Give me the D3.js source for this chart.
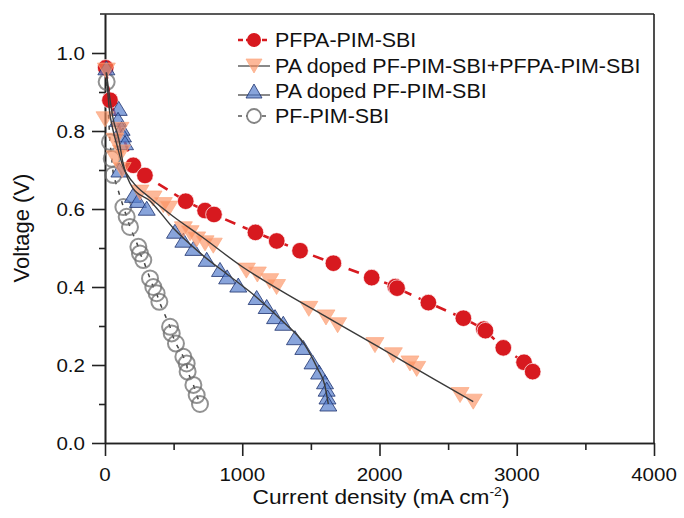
<!DOCTYPE html>
<html><head><meta charset="utf-8">
<script src="https://cdn.jsdelivr.net/npm/d3@7"></script>
<style>
html,body{margin:0;padding:0;background:#fff;}
svg text{font-family:"Liberation Sans",Arial,sans-serif;fill:#111;}
</style></head>
<body>
<svg id="chart" width="684" height="518"></svg>
<script>
// ---- data ----
const seriesNames = ["PFPA-PIM-SBI", "PA doped PF-PIM-SBI+PFPA-PIM-SBI", "PA doped PF-PIM-SBI", "PF-PIM-SBI"];

const redI = [5, 36, 206, 291, 588, 729, 794, 1096, 1251, 1421, 1664, 1943, 2115, 2128, 2356, 2611, 2760, 2772, 2902, 3053, 3116];
const redV = [0.962, 0.879, 0.712, 0.686, 0.620, 0.596, 0.586, 0.540, 0.518, 0.493, 0.461, 0.424, 0.401, 0.397, 0.360, 0.320, 0.292, 0.288, 0.244, 0.207, 0.183];

const orangeI = [10, 0, 109, 73, 75, 120, 125, 255, 350, 425, 465, 571, 620, 668, 729, 789, 1030, 1110, 1200, 1250, 1485, 1610, 1695, 1967, 2101, 2222, 2271, 2587, 2683];
const orangeV = [0.955, 0.83, 0.803, 0.775, 0.73, 0.745, 0.70, 0.642, 0.627, 0.610, 0.601, 0.548, 0.538, 0.522, 0.512, 0.506, 0.442, 0.432, 0.415, 0.400, 0.344, 0.322, 0.302, 0.251, 0.225, 0.204, 0.190, 0.123, 0.106];
const orangeFitI = [10, 30, 60, 90, 130, 200, 330, 500, 700, 1000, 1275, 1600, 2000, 2400, 2683];
const orangeFitV = [0.95, 0.86, 0.80, 0.76, 0.71, 0.67, 0.628, 0.58, 0.53, 0.452, 0.392, 0.326, 0.245, 0.163, 0.106];

const blueI = [10, 100, 95, 121, 131, 146, 105, 204, 240, 304, 510, 571, 644, 741, 838, 890, 971, 1105, 1178, 1239, 1299, 1384, 1445, 1512, 1560, 1603, 1615, 1621, 1627];
const blueV = [0.962, 0.858, 0.83, 0.807, 0.79, 0.77, 0.70, 0.635, 0.622, 0.602, 0.543, 0.520, 0.499, 0.471, 0.445, 0.426, 0.405, 0.373, 0.350, 0.324, 0.307, 0.270, 0.245, 0.208, 0.182, 0.157, 0.138, 0.118, 0.100];
const blueFitI = [10, 60, 100, 130, 200, 330, 500, 700, 900, 1100, 1300, 1450, 1550, 1600, 1627];
const blueFitV = [0.95, 0.83, 0.78, 0.72, 0.655, 0.62, 0.55, 0.485, 0.43, 0.375, 0.31, 0.255, 0.19, 0.15, 0.10];

const grayI = [12, 36, 49, 61, 134, 158, 182, 243, 255, 279, 328, 352, 376, 396, 474, 486, 517, 571, 595, 602, 644, 668, 692];
const grayV = [0.926, 0.772, 0.729, 0.687, 0.605, 0.580, 0.554, 0.503, 0.486, 0.469, 0.422, 0.400, 0.384, 0.362, 0.298, 0.281, 0.255, 0.221, 0.204, 0.183, 0.149, 0.123, 0.100];

const xTicks = [0, 1000, 2000, 3000, 4000];
const xMinor = [500, 1500, 2500, 3500];
const yTicks = [0.0, 0.2, 0.4, 0.6, 0.8, 1.0];
const yMinor = [0.1, 0.3, 0.5, 0.7, 0.9];
const xTitle = "Current density (mA cm";
const yTitle = "Voltage (V)";

// ---- layout ----
const svg = d3.select("#chart");
const x = d3.scaleLinear().domain([0, 4000]).range([105, 654]);
const y = d3.scaleLinear().domain([0, 1.1]).range([443, 14]);
const zip = (a, b) => a.map((v, i) => [v, b[i]]);
const SX = 1.1;

function stext(g, tx, ty, str, size, anchor, sx) {
  return g.append("text").attr("transform", `translate(${tx},${ty}) scale(${sx},1)`)
    .attr("text-anchor", anchor).style("font-size", size + "px").text(str);
}

// frame (top + right)
svg.append("line").attr("x1", 100).attr("x2", 654).attr("y1", 14).attr("y2", 14).attr("stroke", "#222").attr("stroke-width", 1.6);
svg.append("line").attr("x1", 654).attr("x2", 654).attr("y1", 14).attr("y2", 443).attr("stroke", "#222").attr("stroke-width", 1.6);

// axes
const gx = svg.append("g").attr("transform", "translate(0,443)")
  .call(d3.axisBottom(x).tickValues(xTicks).tickSize(13).tickSizeOuter(0).tickFormat(""));
const gxm = svg.append("g").attr("transform", "translate(0,443)")
  .call(d3.axisBottom(x).tickValues(xMinor).tickSize(7).tickSizeOuter(0).tickFormat(""));
const gy = svg.append("g").attr("transform", "translate(105,0)")
  .call(d3.axisLeft(y).tickValues(yTicks).tickSize(13).tickSizeOuter(0).tickFormat(""));
const gym = svg.append("g").attr("transform", "translate(105,0)")
  .call(d3.axisLeft(y).tickValues(yMinor).tickSize(6).tickSizeOuter(0).tickFormat(""));
[gx, gxm, gy, gym].forEach(g => {
  g.selectAll("path.domain").attr("stroke", "#222").attr("stroke-width", 1.6);
  g.selectAll(".tick line").attr("stroke", "#222").attr("stroke-width", 1.6);
});
const labels = svg.append("g");
xTicks.forEach(t => stext(labels, x(t), 481, d3.format("d")(t), 18.7, "middle", SX));
yTicks.forEach(t => stext(labels, 85, y(t) + 6.7, d3.format(".1f")(t), 18.7, "end", SX));

// titles
const xt = svg.append("text").attr("transform", `translate(381,504) scale(1.08,1)`)
  .attr("text-anchor", "middle").style("font-size", "21px");
xt.append("tspan").text(xTitle);
xt.append("tspan").attr("dy", -8).style("font-size", "13px").text("-2");
xt.append("tspan").attr("dy", 8).text(")");
svg.append("text").attr("transform", "translate(29,228) rotate(-90)")
  .attr("text-anchor", "middle").style("font-size", "22px").text(yTitle);

// shapes
function triPath(w, h, up) {
  return up ? `M0,${-h/2}L${w/2},${h/2}L${-w/2},${h/2}Z` : `M0,${h/2}L${w/2},${-h/2}L${-w/2},${-h/2}Z`;
}
const line = d3.line().x(d => x(d[0])).y(d => y(d[1]));
const plot = svg.append("g");

// gray
plot.append("path").datum(zip(grayI, grayV)).attr("d", line).attr("fill", "none")
  .attr("stroke", "#444").attr("stroke-width", 1.5).attr("stroke-dasharray", "4,7");
plot.append("g").selectAll("circle").data(zip(grayI, grayV)).join("circle")
  .attr("cx", d => x(d[0])).attr("cy", d => y(d[1])).attr("r", 8)
  .attr("fill", "none").attr("stroke", "rgba(110,110,110,0.75)").attr("stroke-width", 2);

// red
plot.append("path").datum(zip(redI, redV)).attr("d", line).attr("fill", "none")
  .attr("stroke", "#d7191f").attr("stroke-width", 2.6).attr("stroke-dasharray", "11,8");
plot.append("g").selectAll("circle").data(zip(redI, redV)).join("circle")
  .attr("cx", d => x(d[0])).attr("cy", d => y(d[1])).attr("r", 8.3)
  .attr("fill", "#d7191f").attr("stroke", "#fff").attr("stroke-width", 0.7);

// blue
plot.append("g").selectAll("path").data(zip(blueI, blueV)).join("path")
  .attr("transform", d => `translate(${x(d[0])},${y(d[1])})`).attr("d", triPath(17, 14, true))
  .attr("fill", "rgba(86,125,204,0.7)").attr("stroke", "rgba(30,50,110,0.8)").attr("stroke-width", 1);

// orange
plot.append("g").selectAll("path").data(zip(orangeI, orangeV)).join("path")
  .attr("transform", d => `translate(${x(d[0])},${y(d[1])})`).attr("d", triPath(18, 15, false))
  .attr("fill", "rgba(252,140,90,0.62)").attr("stroke", "rgba(252,170,130,0.7)").attr("stroke-width", 1);

// fit lines
plot.append("path").datum(zip(blueFitI, blueFitV)).attr("d", line.curve(d3.curveMonotoneX)).attr("fill", "none")
  .attr("stroke", "#3a3a3a").attr("stroke-width", 1.4);
plot.append("path").datum(zip(orangeFitI, orangeFitV)).attr("d", line.curve(d3.curveMonotoneX)).attr("fill", "none")
  .attr("stroke", "#3a3a3a").attr("stroke-width", 1.4);

// legend
const lg = svg.append("g");
const rows = [40, 66, 91, 116];
const lx0 = 238, lx1 = 270, lmx = 254;
// red
lg.append("line").attr("x1", lx0).attr("x2", lx1).attr("y1", rows[0]).attr("y2", rows[0])
  .attr("stroke", "#d7191f").attr("stroke-width", 2.4).attr("stroke-dasharray", "5,3");
lg.append("circle").attr("cx", lmx).attr("cy", rows[0]).attr("r", 7).attr("fill", "#d7191f");
// orange
lg.append("line").attr("x1", lx0).attr("x2", lx1).attr("y1", rows[1]).attr("y2", rows[1]).attr("stroke", "#3a3a3a").attr("stroke-width", 1.2);
lg.append("path").attr("transform", `translate(${lmx},${rows[1]})`).attr("d", triPath(16, 14, false))
  .attr("fill", "rgba(252,140,90,0.62)").attr("stroke", "rgba(252,170,130,0.7)");
// blue
lg.append("line").attr("x1", lx0).attr("x2", lx1).attr("y1", rows[2] + 4).attr("y2", rows[2] + 4).attr("stroke", "#3a3a3a").attr("stroke-width", 1.2);
lg.append("path").attr("transform", `translate(${lmx},${rows[2]})`).attr("d", triPath(16, 14, true))
  .attr("fill", "rgba(86,125,204,0.7)").attr("stroke", "rgba(30,50,110,0.8)");
// gray
lg.append("line").attr("x1", lx0).attr("x2", lx1).attr("y1", rows[3]).attr("y2", rows[3])
  .attr("stroke", "#555").attr("stroke-width", 1.3).attr("stroke-dasharray", "4,4");
lg.append("circle").attr("cx", lmx).attr("cy", rows[3]).attr("r", 7).attr("fill", "#fff")
  .attr("stroke", "rgba(110,110,110,0.85)").attr("stroke-width", 1.8);
seriesNames.forEach((n, i) => stext(lg, 275, rows[i] + 7, n, 19.5, "start", 1.1));
</script>
</body></html>
